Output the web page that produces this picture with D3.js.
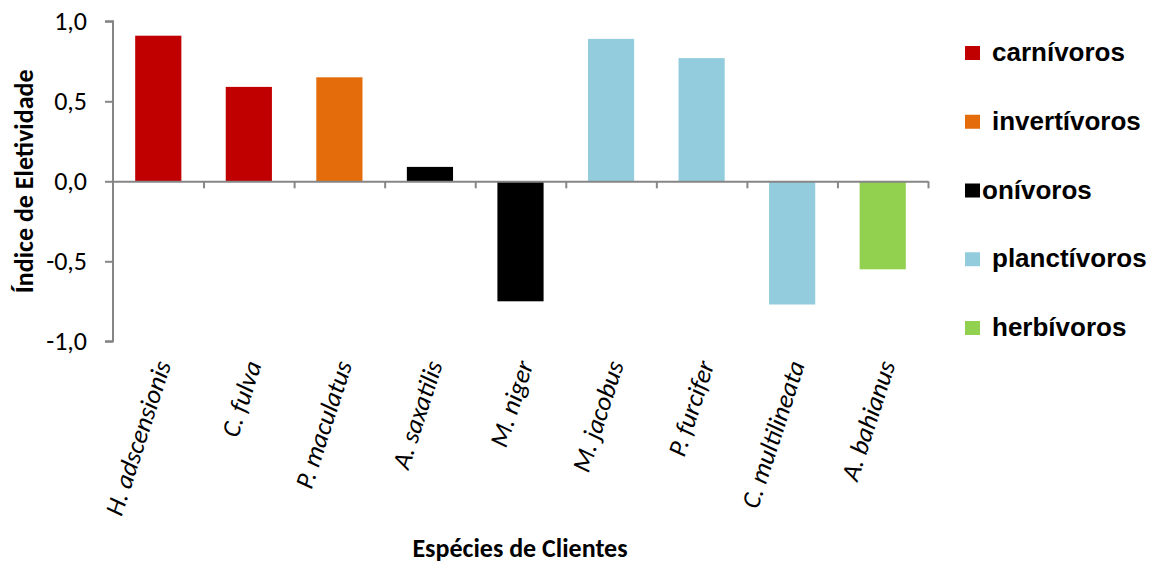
<!DOCTYPE html>
<html>
<head>
<meta charset="utf-8">
<script src="https://cdn.jsdelivr.net/npm/d3@7"></script>
<style>
  body { margin: 0; background: #fff; }
  text { fill: #000; }
</style>
</head>
<body>
<div class="canvas"></div>
<script>
const width = 1158;
const height = 565;

// data
const species = ["H. adscensionis", "C. fulva", "P. maculatus", "A. saxatilis", "M. niger",
                 "M. jacobus", "P. furcifer", "C. multilineata", "A. bahianus"];
const eletividade = [0.91, 0.59, 0.65, 0.09, -0.75, 0.89, 0.77, -0.77, -0.55];
const grupo = ["carnívoros", "carnívoros", "invertívoros", "onívoros", "onívoros",
               "planctívoros", "planctívoros", "planctívoros", "herbívoros"];
const grupos = ["carnívoros", "invertívoros", "onívoros", "planctívoros", "herbívoros"];
const cores = ["#C00000", "#E46C0A", "#000000", "#93CDDD", "#92D050"];
const yTicks = [-1, -0.5, 0, 0.5, 1];

const data = species.map((s, i) => ({ nome: s, valor: eletividade[i], grupo: grupo[i] }));

const [mt, ml] = [21.3, 113];
const graphWidth = 815;
const graphHeight = 320;

const svg = d3.select(".canvas")
    .append("svg")
    .attr("width", width)
    .attr("height", height);

const graph = svg.append("g")
    .attr("transform", `translate(${ml}, ${mt})`);

const x = d3.scaleBand()
    .domain(species)
    .range([0, graphWidth])
    .paddingInner(0.49)
    .paddingOuter(0.245);

const y = d3.scaleLinear()
    .domain([-1, 1])
    .range([graphHeight, 0]);

const color = d3.scaleOrdinal().domain(grupos).range(cores);

const fmt = d => d3.format(".1f")(d).replace(".", ",").replace("−", "-");

// bars
graph.selectAll("rect.bar")
    .data(data)
    .enter()
    .append("rect")
    .attr("class", "bar")
    .attr("x", d => x(d.nome))
    .attr("width", x.bandwidth())
    .attr("y", d => y(Math.max(0, d.valor)))
    .attr("height", d => Math.abs(y(d.valor) - y(0)))
    .attr("fill", d => color(d.grupo));

// y axis
const yAxis = graph.append("g")
    .call(d3.axisLeft(y).tickValues(yTicks).tickSize(8).tickPadding(18).tickFormat(fmt));
yAxis.selectAll("line, path").attr("stroke", "#868686").attr("stroke-width", 2);
yAxis.select(".domain").attr("d", `M-8,${y(1)}H0V${y(-1)}H-8`);
yAxis.selectAll("text")
    .attr("font-family", "Carlito, Lato, sans-serif")
    .attr("font-size", 26);

// x axis at zero, ticks at band boundaries
const xb = d3.scaleLinear().domain([0, species.length]).range([0, graphWidth]);
const xAxis = graph.append("g")
    .attr("transform", `translate(0, ${y(0)})`)
    .call(d3.axisBottom(xb).ticks(species.length).tickSize(7).tickSizeOuter(0).tickFormat(""));
xAxis.selectAll("line, path").attr("stroke", "#868686").attr("stroke-width", 2);
xAxis.selectAll(".tick").filter(d => d === 0).remove();

// category labels
graph.selectAll("text.cat")
    .data(species)
    .enter()
    .append("text")
    .attr("class", "cat")
    .attr("transform", d => `translate(${x(d) + x.bandwidth() / 2 + 13}, ${graphHeight + 23}) rotate(-72)`)
    .attr("text-anchor", "end")
    .attr("font-family", "Carlito, Lato, sans-serif")
    .attr("font-style", "italic")
    .attr("font-size", 26)
    .text(d => d);

// axis titles
svg.append("text")
    .attr("transform", `translate(33, ${mt + graphHeight / 2}) rotate(-90)`)
    .attr("text-anchor", "middle")
    .attr("font-family", "Carlito, Lato, sans-serif")
    .attr("font-weight", "bold")
    .attr("font-size", 26)
    .text("Índice de Eletividade");

svg.append("text")
    .attr("x", 520)
    .attr("y", 557)
    .attr("text-anchor", "middle")
    .attr("font-family", "Carlito, Lato, sans-serif")
    .attr("font-weight", "bold")
    .attr("font-size", 26)
    .text("Espécies de Clientes");

// legend
const legend = svg.append("g");
const ly = d3.scalePoint().domain(grupos).range([53, 328]);
const item = legend.selectAll("g")
    .data(grupos)
    .enter()
    .append("g")
    .attr("transform", d => `translate(965, ${ly(d)})`);
item.append("rect")
    .attr("x", 0)
    .attr("y", -7)
    .attr("width", 15)
    .attr("height", 14)
    .attr("fill", d => color(d));
item.append("text")
    .attr("x", d => d === "onívoros" ? 17 : 27)
    .attr("y", 8)
    .attr("font-family", "Liberation Sans, Arial, sans-serif")
    .attr("font-weight", "bold")
    .attr("font-size", 26)
    .text(d => d);
</script>
</body>
</html>
